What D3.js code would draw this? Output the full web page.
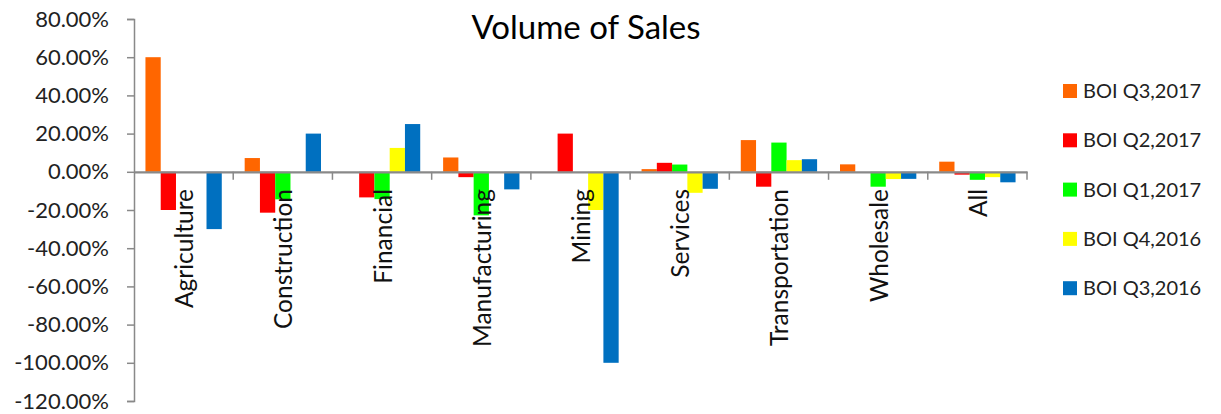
<!DOCTYPE html>
<html>
<head>
<meta charset="utf-8">
<script src="https://cdn.jsdelivr.net/npm/d3@7"></script>
<style>
  html, body { margin: 0; padding: 0; background: #fff; }
  svg { display: block; font-family: Lato, "Open Sans", sans-serif; font-weight: 400; }
</style>
</head>
<body>
<svg id="chart" width="1221" height="414"></svg>
<script>
const categories = ["Agriculture", "Construction", "Financial", "Manufacturing", "Mining", "Services", "Transportation", "Wholesale", "All"];
const seriesNames = ["BOI Q3,2017", "BOI Q2,2017", "BOI Q1,2017", "BOI Q4,2016", "BOI Q3,2016"];
const seriesColors = ["#FF6600", "#FF0000", "#00FF00", "#FFFF00", "#0070C0"];
const q3_2017 = [0.60, 0.072, 0.0, 0.075, 0.0, 0.014, 0.166, 0.039, 0.053];
const q2_2017 = [-0.20, -0.214, -0.134, -0.028, 0.20, 0.047, -0.078, 0.0, -0.015];
const q1_2017 = [0.0, -0.144, -0.143, -0.228, 0.0, 0.038, 0.153, -0.078, -0.042];
const q4_2016 = [0.0, 0.0, 0.125, 0.0, -0.20, -0.110, 0.061, -0.038, -0.028];
const q3_2016 = [-0.30, 0.20, 0.25, -0.092, -1.00, -0.089, 0.066, -0.037, -0.055];
const seriesValues = [q3_2017, q2_2017, q1_2017, q4_2016, q3_2016];
const tickValues = [0.8, 0.6, 0.4, 0.2, 0, -0.2, -0.4, -0.6, -0.8, -1.0, -1.2];
const tickLabels = ["80.00%", "60.00%", "40.00%", "20.00%", "0.00%", "-20.00%", "-40.00%", "-60.00%", "-80.00%", "-100.00%", "-120.00%"];
const titleText = "Volume of Sales";

const svg = d3.select("#chart");
const mLeft = 134, mRight = 1027, mTop = 19, mBottom = 401;
const axisColor = "#898989";

const x = d3.scaleBand().domain(categories).range([mLeft, mRight]).paddingInner(0).paddingOuter(0);
const x1 = d3.scaleBand().domain(seriesNames).range([0, x.bandwidth()]).paddingOuter(0.75).paddingInner(0);
const y = d3.scaleLinear().domain([-1.2, 0.8]).range([mBottom, mTop]);

// title
svg.append("text")
  .attr("x", 586).attr("y", 39)
  .attr("text-anchor", "middle")
  .attr("font-size", 33)
  .attr("fill", "#000")
  .text(titleText);

// y axis
const yAxis = d3.axisLeft(y).tickValues(tickValues)
  .tickFormat((d, i) => tickLabels[i]).tickSize(7).tickPadding(18);
const gy = svg.append("g").attr("transform", `translate(${mLeft},0)`).call(yAxis);
gy.select(".domain").attr("stroke", axisColor).attr("stroke-width", 1.5);
gy.selectAll(".tick line").attr("stroke", axisColor).attr("stroke-width", 1.5);
gy.selectAll(".tick text").attr("font-size", 22).attr("fill", "#222")
  .attr("font-family", "Lato, sans-serif").attr("font-weight", 400);

// bars
const groups = svg.append("g").selectAll("g")
  .data(categories).join("g")
  .attr("transform", d => `translate(${x(d)},0)`);
groups.selectAll("rect")
  .data((c, ci) => seriesNames.map((s, si) => ({ s, si, v: seriesValues[si][ci] })))
  .join("rect")
  .attr("x", d => x1(d.s))
  .attr("width", x1.bandwidth())
  .attr("y", d => y(Math.max(0, d.v)))
  .attr("height", d => Math.abs(y(d.v) - y(0)))
  .attr("fill", d => seriesColors[d.si]);

// x axis at zero
const xAxis = d3.axisBottom(x).tickValues([]).tickSizeOuter(0);
const gx = svg.append("g").attr("transform", `translate(0,${y(0)})`).call(xAxis);
gx.select(".domain").attr("stroke", axisColor).attr("stroke-width", 2.2);
const boundaries = categories.map(c => x(c)).slice(1).concat([mRight]);
gx.selectAll(".bt").data(boundaries).join("line")
  .attr("class", "bt")
  .attr("x1", d => d).attr("x2", d => d)
  .attr("y1", 0).attr("y2", 8)
  .attr("stroke", axisColor).attr("stroke-width", 1.5);

// category labels (rotated)
svg.append("g").selectAll("text").data(categories).join("text")
  .attr("transform", d => `translate(${x(d) + x.bandwidth() / 2 + 9.5},189) rotate(-90)`)
  .attr("text-anchor", "end")
  .attr("font-size", 24.5)
  .attr("fill", "#111")
  .text(d => d);

// legend
const lg = svg.append("g").selectAll("g").data(seriesNames).join("g")
  .attr("transform", (d, i) => `translate(1063,${91 + i * 49.3})`);
lg.append("rect").attr("x", 0).attr("y", -7).attr("width", 14).attr("height", 14)
  .attr("fill", (d, i) => seriesColors[i]);
lg.append("text").attr("x", 20).attr("y", 7)
  .attr("font-size", 20).attr("fill", "#222").text(d => d);
</script>
</body>
</html>
